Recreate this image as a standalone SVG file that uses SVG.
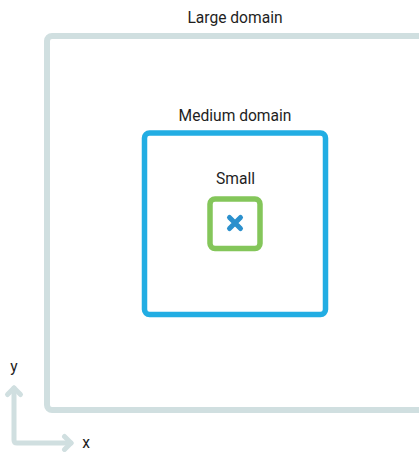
<svg xmlns="http://www.w3.org/2000/svg" width="419" height="452" viewBox="0 0 419 452">
  <style>
    .label { font-family: Roboto, "Liberation Sans", sans-serif; font-size: 15.6px; fill: #1e1e1e; text-anchor: middle; }
    .frame { fill: none; stroke-linejoin: round; stroke-linecap: round; }
    .large { stroke: #d0dfe0; stroke-width: 6; }
    .medium { stroke: #22ade3; stroke-width: 5.5; }
    .small { stroke: #84c65a; stroke-width: 5.5; }
    .axis { fill: none; stroke: #d0dfe0; stroke-width: 5; stroke-linecap: round; stroke-linejoin: round; }
  </style>
  <rect width="419" height="452" fill="#ffffff"/>

  <g id="large-domain">
    <rect class="frame large" x="47" y="36" width="400" height="374" rx="5"/>
    <text class="label" x="235" y="23">Large domain</text>
  </g>

  <g id="medium-domain">
    <rect class="frame medium" x="144.5" y="133" width="181" height="181.5" rx="5"/>
    <text class="label" x="235" y="120.5">Medium domain</text>
  </g>

  <g id="small-domain">
    <rect class="frame small" x="210" y="199" width="50" height="49.5" rx="5"/>
    <text class="label" x="235.5" y="183.5">Small</text>
  </g>

  <g id="point">
    <path d="M229.5 217.5 L240.5 228.5 M240.5 217.5 L229.5 228.5" stroke="#2b90cd" stroke-width="5" stroke-linecap="round" fill="none"/>
  </g>

  <g id="connectors">
    <path class="axis" d="M14 388 L14 440 Q14 443 17 443 L71 443"/>
    <path class="axis" d="M7.5 394.5 L14 388 L20.5 394.5"/>
    <path class="axis" d="M64.5 436.5 L71 443 L64.5 449.5"/>
  </g>

  <g id="axis-labels">
    <text class="label" x="14" y="372">y</text>
    <text class="label" x="86" y="448">x</text>
  </g>
</svg>
